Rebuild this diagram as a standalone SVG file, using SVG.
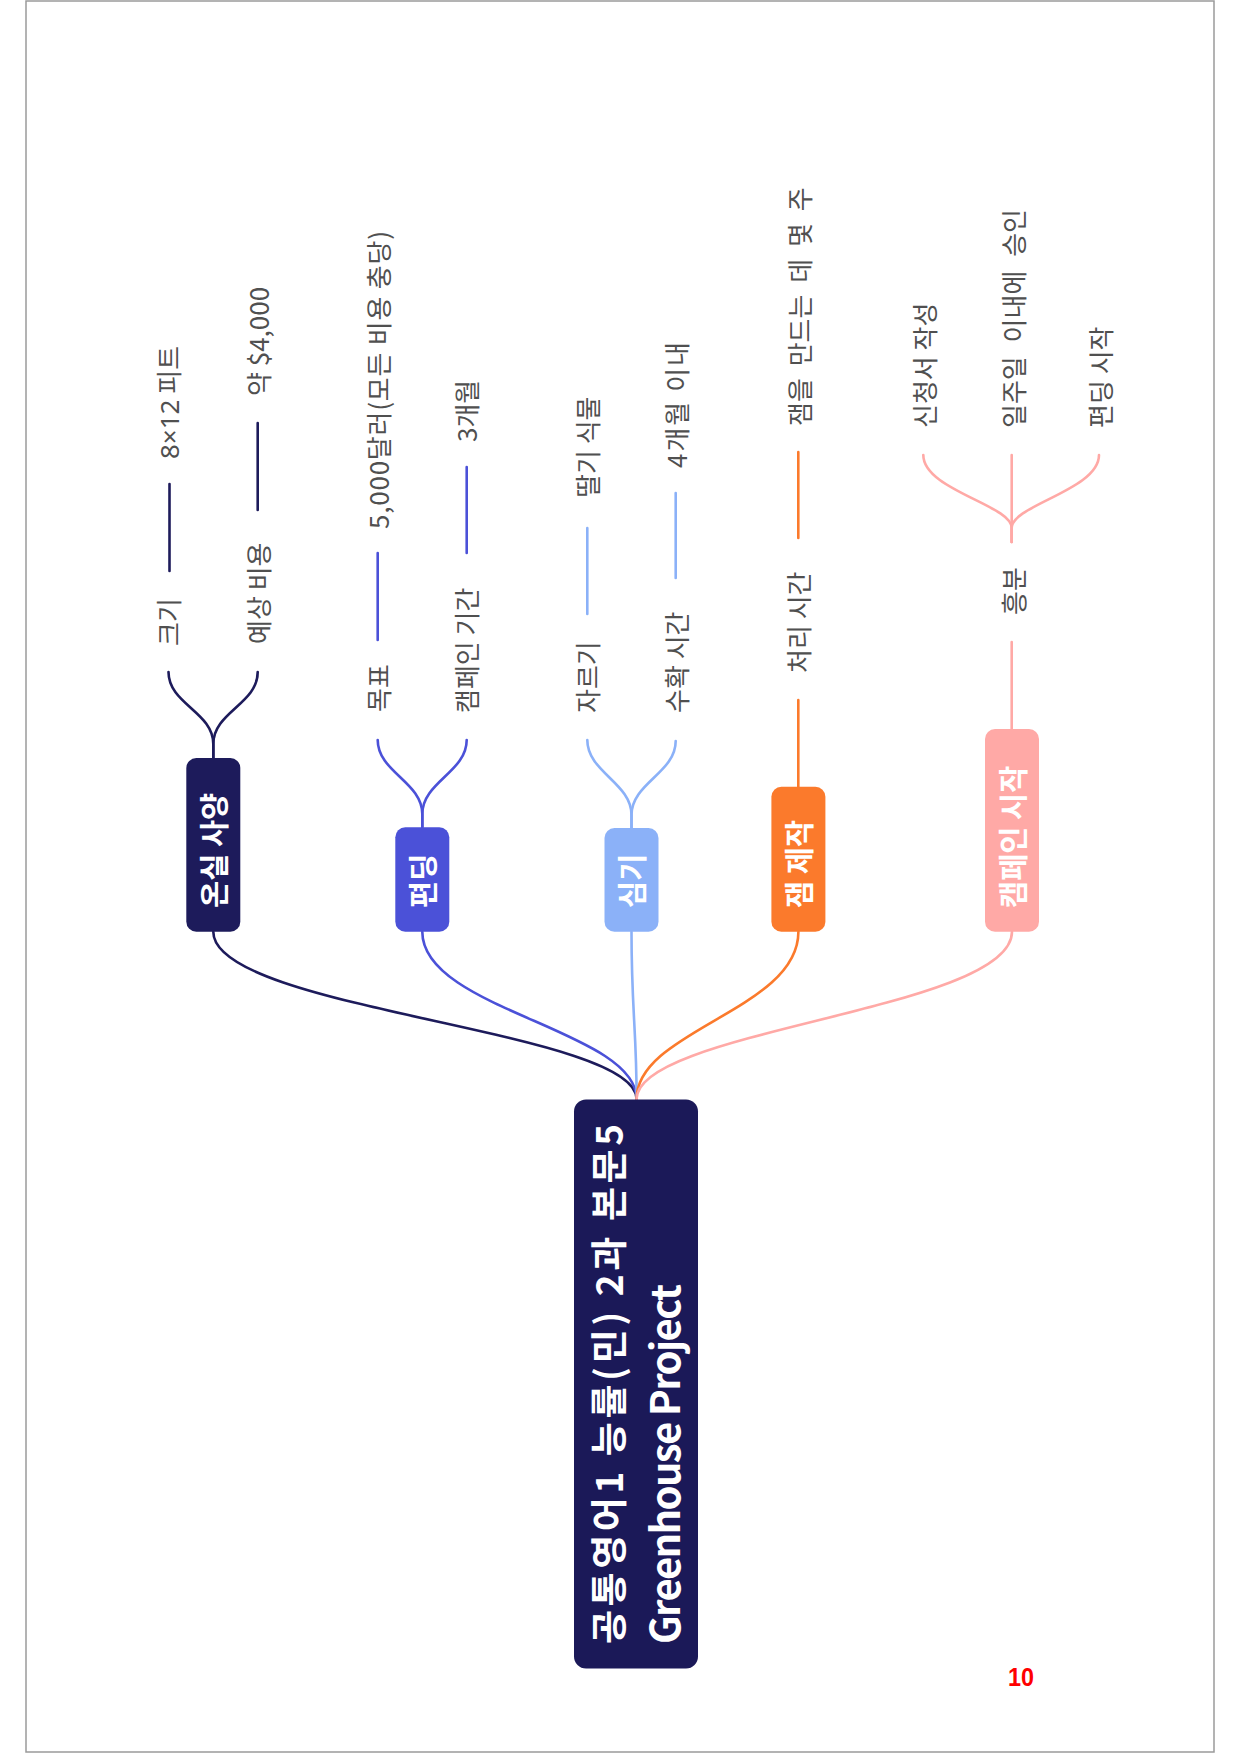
<svg xmlns="http://www.w3.org/2000/svg" width="1240" height="1754" viewBox="0 0 1240 1754">
<style>
.leaf{font-family:"Noto Sans CJK KR","Noto Sans",sans-serif;font-size:26px;fill:#505050;}
.lat{font-family:"Noto Sans","Noto Sans CJK KR",sans-serif;}
.nl{font-family:"Noto Sans CJK KR","Noto Sans",sans-serif;font-size:29.5px;font-weight:700;fill:#ffffff;}
.rt{font-family:"Noto Sans CJK KR","Noto Sans",sans-serif;font-weight:700;fill:#ffffff;}
.c{fill:none;stroke-width:2.6;stroke-linecap:round;}
.navy{stroke:#1d1b5b;}
.blue{stroke:#4b51d8;}
.lblue{stroke:#8bb1f8;}
.orange{stroke:#fb7a2c;}
.pink{stroke:#ffa9a6;}
</style>
<rect x="0" y="0" width="1240" height="1754" fill="#ffffff"/>
<rect x="26" y="1" width="1188" height="1751" fill="none" stroke="#9a9a9a" stroke-width="1.5"/>

<g id="connectors">
  <path class="c navy" d="M636.6,1099 C636.6,1030 213.3,1010 213.3,931.7"/>
  <path class="c blue" d="M636.6,1099 C636.6,1030 422.3,1010 422.3,931.7"/>
  <path class="c lblue" d="M636.6,1099 C636.6,1030 631.5,1010 631.5,931.7"/>
  <path class="c orange" d="M636.6,1099 C636.6,1030 798.4,1010 798.4,931.7"/>
  <path class="c pink" d="M636.6,1099 C636.6,1030 1012,1010 1012,931.7"/>

  <path class="c navy" d="M213.3,758 L213.3,744 C213.3,712 168.5,704 168.5,672"/>
  <path class="c navy" d="M213.3,758 L213.3,744 C213.3,712 257.7,704 257.7,672"/>
  <path class="c navy" d="M169.5,571 L169.5,484" stroke-width="3"/>
  <path class="c navy" d="M257.7,510 L257.7,423" stroke-width="3"/>

  <path class="c blue" d="M422.3,827.3 L422.3,814 C422.3,782 377.7,772 377.7,740"/>
  <path class="c blue" d="M422.3,827.3 L422.3,814 C422.3,782 466.7,772 466.7,740"/>
  <path class="c blue" d="M377.7,640 L377.7,553"/>
  <path class="c blue" d="M466.7,553 L466.7,467"/>

  <path class="c lblue" d="M631.5,828 L631.5,815 C631.5,783 587.3,772 587.3,740"/>
  <path class="c lblue" d="M631.5,828 L631.5,815 C631.5,783 675.7,773 675.7,741"/>
  <path class="c lblue" d="M587.3,614 L587.3,528"/>
  <path class="c lblue" d="M675.7,578 L675.7,493"/>

  <path class="c orange" d="M798.3,786.7 L798.3,700"/>
  <path class="c orange" d="M798.3,538 L798.3,452" stroke-width="3"/>

  <path class="c pink" d="M1011.7,729 L1011.7,642"/>
  <path class="c pink" d="M1011.7,542 L1011.7,528 C1011.7,505 923.3,490 923.3,455"/>
  <path class="c pink" d="M1011.7,542 L1011.7,455"/>
  <path class="c pink" d="M1011.7,542 L1011.7,528 C1011.7,505 1099,490 1099,455"/>
</g>

<g id="root">
  <rect x="574" y="1099.5" width="124" height="569" rx="12" fill="#1b1958"/>
  <text class="rt" font-size="37" transform="translate(622.5,1644) rotate(-90)" textLength="520" lengthAdjust="spacing">공통영어1 능률(민) 2과 본문5</text>
  <text class="rt" font-size="40" transform="translate(680,1644) rotate(-90)" textLength="360" lengthAdjust="spacing">Greenhouse Project</text>
</g>

<g id="node-greenhouse">
  <rect x="186.3" y="758" width="54" height="173.7" rx="10" fill="#1d1b5b"/>
  <text class="nl" transform="translate(224.8,908) rotate(-90)">온실 사양</text>
</g>
<g id="node-funding">
  <rect x="395.3" y="827.3" width="54" height="104.4" rx="10" fill="#4b51d8"/>
  <text class="nl" transform="translate(433.8,908) rotate(-90)">편딩</text>
</g>
<g id="node-planting">
  <rect x="604.5" y="828" width="54" height="103.7" rx="10" fill="#8bb1f8"/>
  <text class="nl" transform="translate(643,908) rotate(-90)">심기</text>
</g>
<g id="node-jam">
  <rect x="771.4" y="786.7" width="54" height="145" rx="10" fill="#fb7a2c"/>
  <text class="nl" transform="translate(809.9,908) rotate(-90)">잼 제작</text>
</g>
<g id="node-campaign">
  <rect x="985" y="729" width="54" height="202.7" rx="10" fill="#ffa9a6"/>
  <text class="nl" transform="translate(1023.5,908) rotate(-90)">캠페인 시작</text>
</g>

<g id="leaf-size"><text class="leaf" transform="translate(179,646) rotate(-90)">크기</text></g>
<g id="leaf-size-val"><text class="leaf" transform="translate(179,459) rotate(-90)"><tspan class="lat">8×12</tspan> 피트</text></g>
<g id="leaf-cost"><text class="leaf" transform="translate(269,644) rotate(-90)">예상 비용</text></g>
<g id="leaf-cost-val"><text class="leaf" transform="translate(268.5,396) rotate(-90)">약 $4,000</text></g>

<g id="leaf-goal"><text class="leaf" transform="translate(389,712) rotate(-90)">목표</text></g>
<g id="leaf-goal-val"><text class="leaf" transform="translate(389,529) rotate(-90)" textLength="298" lengthAdjust="spacing">5,000달러(모든 비용 충당)</text></g>
<g id="leaf-period"><text class="leaf" transform="translate(477,713) rotate(-90)">캠페인 기간</text></g>
<g id="leaf-period-val"><text class="leaf" transform="translate(477,442) rotate(-90)">3개월</text></g>

<g id="leaf-prune"><text class="leaf" transform="translate(598,713) rotate(-90)">자르기</text></g>
<g id="leaf-prune-val"><text class="leaf" transform="translate(598,498) rotate(-90)">딸기 식물</text></g>
<g id="leaf-harvest"><text class="leaf" transform="translate(686.5,713) rotate(-90)">수확 시간</text></g>
<g id="leaf-harvest-val"><text class="leaf" transform="translate(686.5,468) rotate(-90)" textLength="126" lengthAdjust="spacing">4개월 이내</text></g>

<g id="leaf-process"><text class="leaf" transform="translate(809,673) rotate(-90)">처리 시간</text></g>
<g id="leaf-process-val"><text class="leaf" transform="translate(810,426) rotate(-90)" word-spacing="6">잼을 만드는 데 몇 주</text></g>

<g id="leaf-excite"><text class="leaf" transform="translate(1023.5,615) rotate(-90)">흥분</text></g>
<g id="leaf-apply"><text class="leaf" transform="translate(935,428) rotate(-90)">신청서 작성</text></g>
<g id="leaf-approve"><text class="leaf" transform="translate(1024,428) rotate(-90)" word-spacing="8">일주일 이내에 승인</text></g>
<g id="leaf-start"><text class="leaf" transform="translate(1111,428) rotate(-90)">편딩 시작</text></g>

<text x="1021" y="1686" text-anchor="middle" font-family="Liberation Sans, Arial, sans-serif" font-weight="700" font-size="26" fill="#ff0000" textLength="26" lengthAdjust="spacingAndGlyphs">10</text>
</svg>
